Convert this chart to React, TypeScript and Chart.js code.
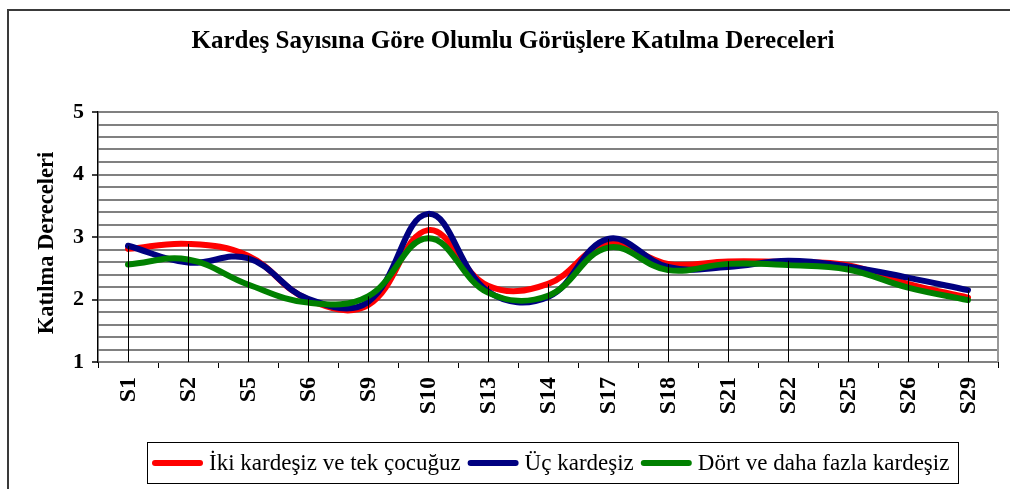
import React, { useEffect, useRef } from "react";
import { Chart, registerables } from "chart.js";

Chart.register(...registerables);

// ---- Data ----
const categories = ["S1", "S2", "S5", "S6", "S9", "S10", "S13", "S14", "S17", "S18", "S21", "S22", "S25", "S26", "S29"];
const ikiKardes = [2.81, 2.89, 2.70, 2.00, 1.91, 3.11, 2.22, 2.25, 2.90, 2.57, 2.61, 2.60, 2.55, 2.25, 2.03];
const ucKardes = [2.86, 2.59, 2.66, 2.01, 1.96, 3.37, 2.13, 2.04, 2.97, 2.52, 2.52, 2.62, 2.53, 2.35, 2.15];
const dortVeFazla = [2.56, 2.64, 2.24, 1.95, 2.05, 2.98, 2.11, 2.06, 2.83, 2.47, 2.57, 2.55, 2.48, 2.19, 1.99];
const seriesNames = ["İki kardeşiz ve tek çocuğuz", "Üç kardeşiz", "Dört ve daha fazla kardeşiz"];
const seriesColors = ["#FF0000", "#000080", "#008000"];
const titleText = "Kardeş Sayısına Göre Olumlu Görüşlere Katılma Dereceleri";
const yAxisTitle = "Katılma Dereceleri";
const yMin = 1;
const yMax = 5;
const yStep = 0.2;

const SERIF = "'Liberation Serif', 'Times New Roman', serif";
const isInt = (v: number) => Math.abs(v - Math.round(v)) < 1e-6;

const decorPlugin = {
  id: "decor",
  beforeDraw(chart: any) {
    const { ctx } = chart;
    ctx.save();
    ctx.fillStyle = "#fff";
    ctx.fillRect(0, 0, chart.width, chart.height);
    // outer frame
    ctx.strokeStyle = "#3a3a3a";
    ctx.lineWidth = 2;
    ctx.beginPath();
    ctx.moveTo(8, chart.height);
    ctx.lineTo(8, 10);
    ctx.lineTo(chart.width, 10);
    ctx.stroke();
    ctx.restore();
  },
  beforeDatasetsDraw(chart: any) {
    const { ctx, chartArea } = chart;
    ctx.save();
    ctx.strokeStyle = "#999";
    ctx.lineWidth = 2;
    ctx.beginPath();
    ctx.moveTo(chartArea.right, chartArea.top);
    ctx.lineTo(chartArea.right, chartArea.bottom);
    ctx.stroke();
    ctx.restore();
  },
  afterDatasetsDraw(chart: any) {
    const { ctx, chartArea, scales } = chart;
    const xs = scales.x;
    const ys = scales.y;
    ctx.save();
    ctx.strokeStyle = "#000";
    ctx.lineWidth = 1;
    categories.forEach((_, i) => {
      const maxV = Math.max(...chart.data.datasets.map((d: any) => d.data[i]));
      const px = Math.round(xs.getPixelForValue(i)) + 0.5;
      ctx.beginPath();
      ctx.moveTo(px, ys.getPixelForValue(maxV));
      ctx.lineTo(px, chartArea.bottom);
      ctx.stroke();
    });
    ctx.restore();
  },
  afterDraw(chart: any) {
    const { ctx, chartArea, scales } = chart;
    const xs = scales.x;
    ctx.save();
    ctx.fillStyle = "#000";
    // title
    ctx.font = `bold 25px ${SERIF}`;
    ctx.textAlign = "center";
    ctx.textBaseline = "middle";
    ctx.fillText(titleText, 513, 42);
    // y axis title
    ctx.save();
    ctx.translate(47, (chartArea.top + chartArea.bottom) / 2 + 6);
    ctx.rotate(-Math.PI / 2);
    ctx.font = `bold 22.5px ${SERIF}`;
    ctx.textAlign = "center";
    ctx.textBaseline = "middle";
    ctx.fillText(yAxisTitle, 0, 0);
    ctx.restore();
    // x labels rotated (reading upward)
    ctx.font = `bold 24px ${SERIF}`;
    categories.forEach((lab, i) => {
      const px = xs.getPixelForValue(i);
      ctx.save();
      ctx.translate(px + 1, chartArea.bottom + 15);
      ctx.rotate(-Math.PI / 2);
      ctx.textAlign = "right";
      ctx.textBaseline = "middle";
      ctx.fillText(lab, 0, 0);
      ctx.restore();
    });
    // legend
    const boxL = 147, boxT = 442, boxR = 958, boxB = 483;
    ctx.strokeStyle = "#000";
    ctx.lineWidth = 1;
    ctx.strokeRect(boxL + 0.5, boxT + 0.5, boxR - boxL, boxB - boxT);
    const cy = (boxT + boxB) / 2 + 0.5;
    let x = 152;
    ctx.font = `23px ${SERIF}`;
    ctx.textAlign = "left";
    ctx.textBaseline = "middle";
    chart.data.datasets.forEach((d: any) => {
      ctx.strokeStyle = d.borderColor;
      ctx.lineWidth = 6;
      ctx.lineCap = "round";
      ctx.beginPath();
      ctx.moveTo(x + 3, cy);
      ctx.lineTo(x + 48, cy);
      ctx.stroke();
      x += 57;
      ctx.fillStyle = "#000";
      ctx.fillText(d.label, x, cy + 1);
      x += ctx.measureText(d.label).width + 7;
    });
    ctx.restore();
  },
};

export default function App() {
  const canvasRef = useRef<HTMLCanvasElement | null>(null);

  useEffect(() => {
    if (!canvasRef.current) return;
    const seriesData = [ikiKardes, ucKardes, dortVeFazla];
    const chart = new Chart(canvasRef.current, {
      type: "line",
      data: {
        labels: categories,
        datasets: seriesData.map((arr, k) => ({
          label: seriesNames[k],
          data: arr,
          borderColor: seriesColors[k],
          backgroundColor: seriesColors[k],
          borderWidth: 6,
          tension: 0.4,
          pointRadius: 0,
          pointHoverRadius: 0,
          borderCapStyle: "round",
          borderJoinStyle: "round",
          fill: false,
          order: 3 - k,
        })),
      },
      options: {
        animation: false,
        responsive: true,
        maintainAspectRatio: false,
        layout: { padding: { top: 112, right: 12, left: 0, bottom: 0 } },
        plugins: {
          legend: { display: false },
          title: { display: false },
          tooltip: { enabled: false },
        },
        scales: {
          x: {
            type: "category",
            offset: true,
            afterFit: (s: any) => {
              s.height = 127;
            },
            grid: {
              display: true,
              drawOnChartArea: false,
              drawTicks: true,
              tickLength: 6,
              tickColor: "#000",
              tickWidth: 1,
              offset: true,
            },
            border: { display: false },
            ticks: { display: false, autoSkip: false },
          },
          y: {
            min: yMin,
            max: yMax,
            afterFit: (s: any) => {
              s.width = 98;
            },
            ticks: {
              stepSize: yStep,
              autoSkip: false,
              padding: 8,
              color: "#000",
              font: { family: SERIF, size: 22, weight: "bold" },
              callback: (v: any) => (isInt(Number(v)) ? String(Math.round(Number(v))) : ""),
            },
            grid: {
              color: "#808080",
              lineWidth: 2,
              tickLength: 6,
              tickWidth: 1.5,
              tickColor: (c: any) => (c.tick && isInt(c.tick.value) ? "#000" : "rgba(0,0,0,0)"),
            },
            border: { display: true, color: "#000", width: 1.5 },
          },
        },
      },
      plugins: [decorPlugin],
    });
    return () => chart.destroy();
  }, []);

  return (
    <div style={{ position: "fixed", left: 0, top: 0, width: 1010, height: 489, background: "#fff" }}>
      <canvas ref={canvasRef} />
    </div>
  );
}
